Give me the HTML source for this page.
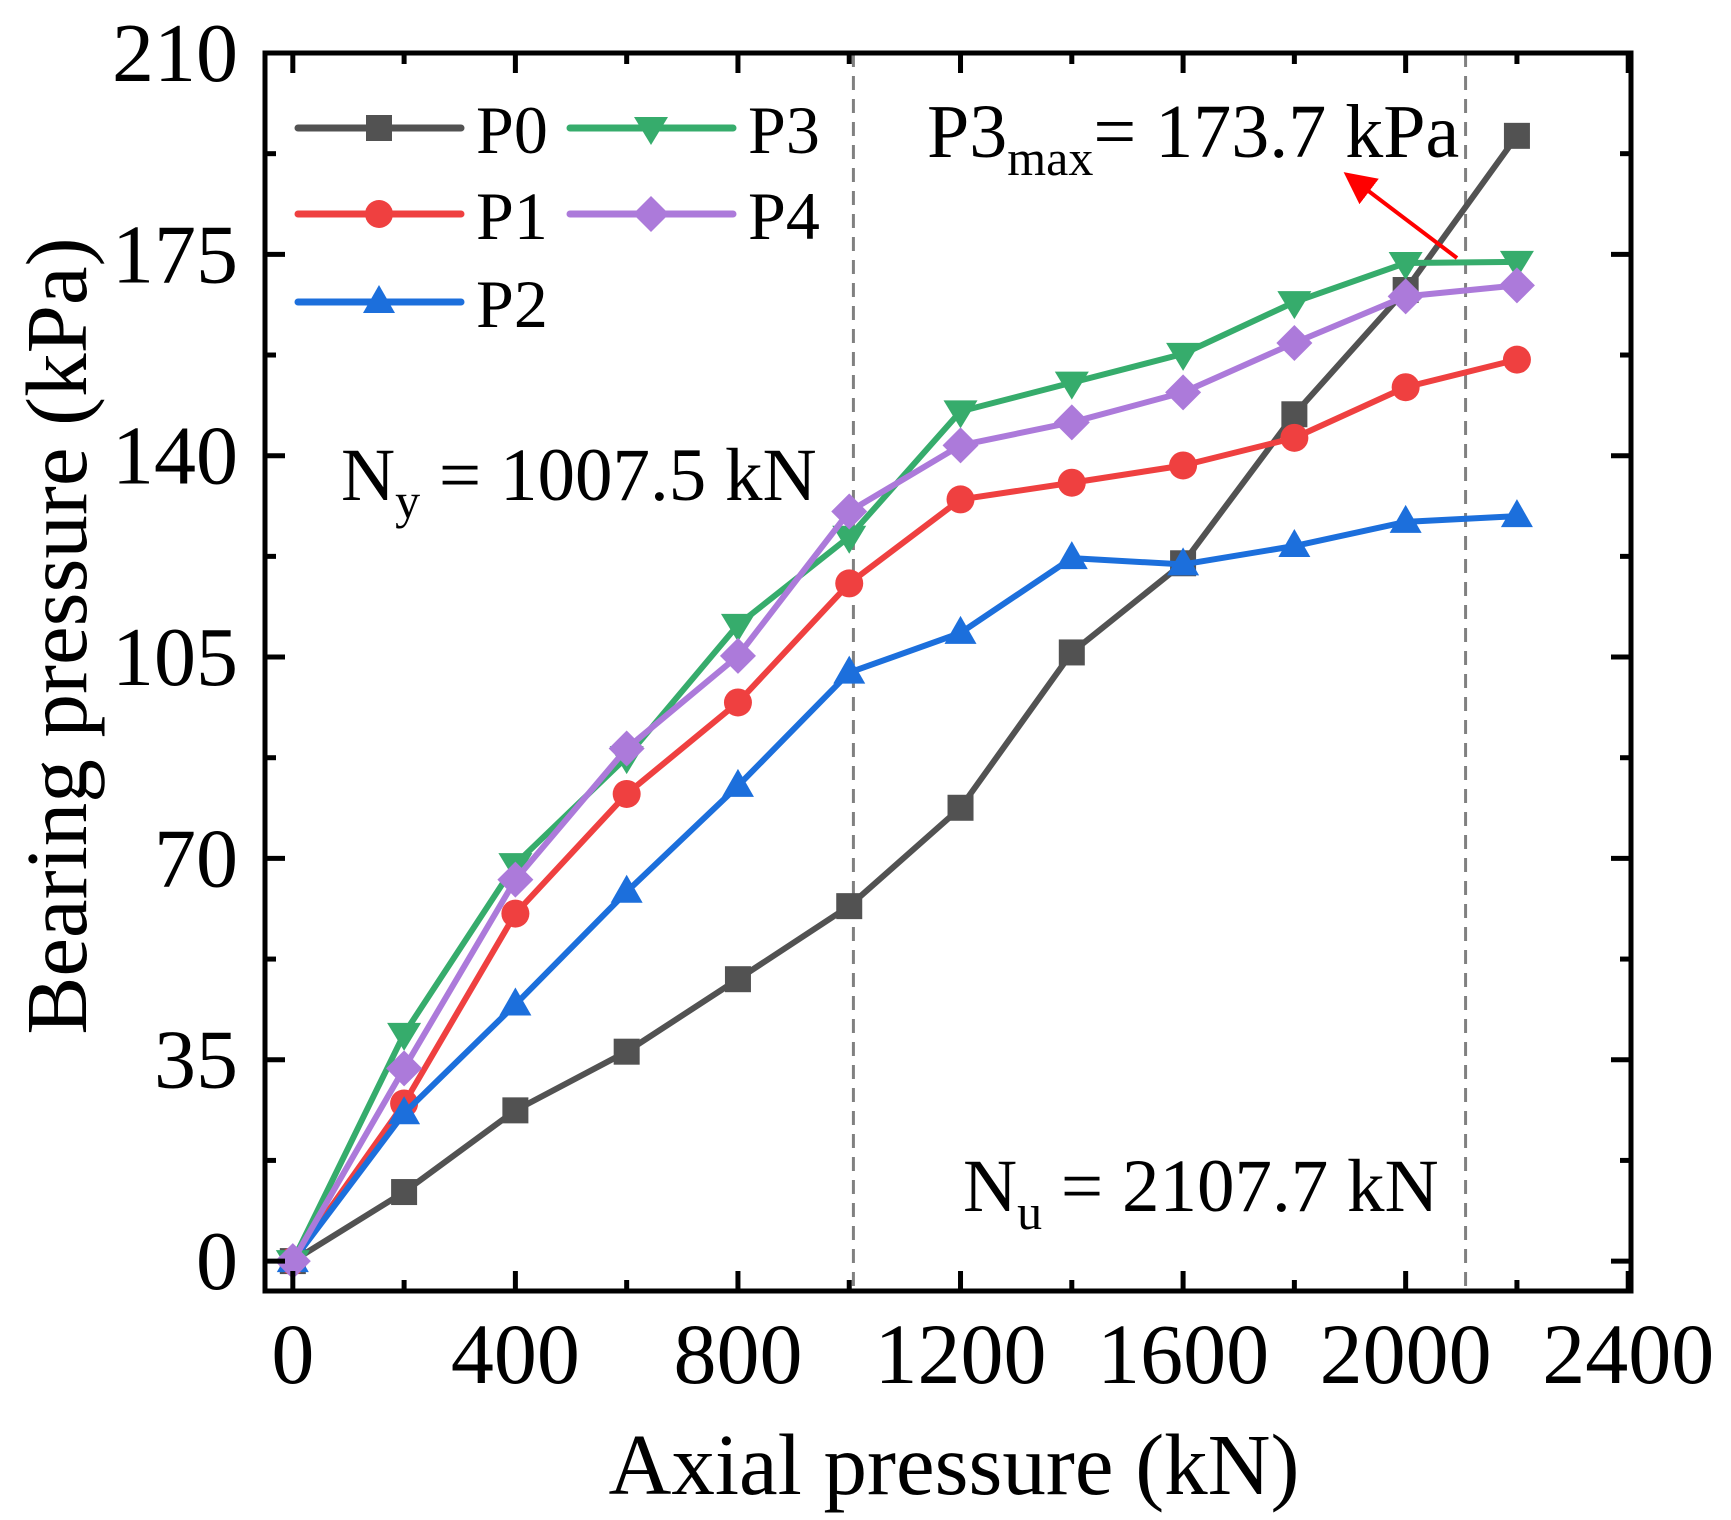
<!DOCTYPE html>
<html><head><meta charset="utf-8"><style>
html,body{margin:0;padding:0;background:#fff;}
svg{display:block;font-family:"Liberation Serif",serif;}
</style></head><body>
<svg id="chart" width="1731" height="1520" viewBox="0 0 1731 1520" xmlns="http://www.w3.org/2000/svg">
<g id="grid"></g>
<g id="marks"></g>
<g id="frame"></g>
<g id="texts"></g>
</svg>
<script>
const xValues = [0,200,400,600,800,1000,1200,1400,1600,1800,2000,2200];
const seriesNames = ["P0","P1","P2","P3","P4"];
const p0 = [0,12,26.2,36.4,49,61.7,78.8,105.8,121.3,147.2,168.8,195.6];
const p1 = [0,27.4,60.4,81.2,97.1,117.8,132.4,135.3,138.3,143.1,151.9,156.7];
const p2 = [0,25.7,44.6,64.2,82.6,102.3,109.2,122.2,121.1,124.3,128.5,129.5];
const p3 = [0,39.5,69,87.6,110.6,125.9,147.7,152.7,157.7,166.7,173.5,173.7];
const p4 = [0,33.5,66.3,89.1,105.2,130.3,141.8,145.8,151,159.6,167.7,169.6];
const xTicks = [0,400,800,1200,1600,2000,2400];
const yTicks = [0,35,70,105,140,175,210];
const refLines = [1007.5,2107.7];

const NS="http://www.w3.org/2000/svg";
const L=265,R=1631,T=53,B=1291;
const xMin=-50,xMax=2405,yMin=-5.2,yMax=210;
const sx=v=>L+(v-xMin)/(xMax-xMin)*(R-L);
const sy=v=>B-(v-yMin)/(yMax-yMin)*(B-T);
function mk(tag,attrs,parent){const e=document.createElementNS(NS,tag);for(const k in attrs)e.setAttribute(k,attrs[k]);parent.appendChild(e);return e;}
const grid=document.getElementById('grid'),marks=document.getElementById('marks'),frame=document.getElementById('frame'),texts=document.getElementById('texts');

refLines.forEach((v,i)=>{const l=mk('line',{x1:sx(v),x2:sx(v),y1:T,y2:B,stroke:'#808080','stroke-width':3,'stroke-dasharray':'14,9'},grid);

});

const colors=["#525252","#ef4040","#1c6fdc","#36ac6c","#ac7ada"];
const data=[p0,p1,p2,p3,p4];
function marker(k,x,y,parent){
  const c=colors[k];let e;
  if(k===0)e=mk('rect',{x:x-13,y:y-13,width:26,height:26,fill:c},parent);
  else if(k===1)e=mk('circle',{cx:x,cy:y,r:14,fill:c},parent);
  else if(k===2)e=mk('polygon',{points:`${x},${y-17} ${x+16},${y+11} ${x-16},${y+11}`,fill:c},parent);
  else if(k===3)e=mk('polygon',{points:`${x-17},${y-11} ${x+17},${y-11} ${x},${y+17}`,fill:c},parent);
  else e=mk('polygon',{points:`${x},${y-18} ${x+18},${y} ${x},${y+18} ${x-18},${y}`,fill:c},parent);
  return e;
}
data.forEach((arr,k)=>{
  const g=mk('g',{},marks);
  
  
  const pl=mk('polyline',{points:arr.map((v,i)=>sx(xValues[i])+','+sy(v)).join(' '),fill:'none',stroke:colors[k],'stroke-width':6,'stroke-linejoin':'round'},g);
  
  
  arr.forEach((v,i)=>{const m=marker(k,sx(xValues[i]),sy(v),g);
    
    });
});

const fr=mk('rect',{x:L,y:T,width:R-L,height:B-T,fill:'none',stroke:'#000','stroke-width':5},frame);


for(let v=0;v<=2400;v+=200){const x=sx(v),len=(v%400===0)?20:11;
  mk('line',{x1:x,x2:x,y1:B,y2:B-len,stroke:'#000','stroke-width':5},frame);
  mk('line',{x1:x,x2:x,y1:T,y2:T+len,stroke:'#000','stroke-width':5},frame);}
for(let v=0;v<=210;v+=17.5){const y=sy(v),len=(Math.round(v*2)%70===0)?20:11;
  mk('line',{x1:L,x2:L+len,y1:y,y2:y,stroke:'#000','stroke-width':5},frame);
  mk('line',{x1:R,x2:R-len,y1:y,y2:y,stroke:'#000','stroke-width':5},frame);}

xTicks.forEach(v=>{const t=mk('text',{x:sx(v),y:1383,'font-size':86,'text-anchor':'middle'},texts);t.textContent=v;
  
  });
yTicks.forEach(v=>{const t=mk('text',{x:238,y:sy(v)+28,'font-size':84,'text-anchor':'end'},texts);t.textContent=v;
  
  });

const legPos=[[298,128],[298,214],[298,302],[570,128],[570,214]];
legPos.forEach(([x,y],k)=>{const g=mk('g',{},texts);
  
  
  mk('line',{x1:x,x2:x+163,y1:y,y2:y,stroke:colors[k],'stroke-width':7,'stroke-linecap':'round'},g);
  marker(k,x+81,y,g);
  const t=mk('text',{x:x+178,y:y+25,'font-size':68},g);t.textContent=seriesNames[k];});
</script>
<svg style="position:absolute;left:0;top:0" width="1731" height="1520" xmlns="http://www.w3.org/2000/svg">
<defs><marker id="ah" markerWidth="8" markerHeight="8" refX="6" refY="4" orient="auto" markerUnits="strokeWidth"><path d="M0,0 L8,4 L0,8 Z" fill="#f00"/></marker></defs>
<line x1="1457" y1="258" x2="1350" y2="177" stroke="#f00" stroke-width="4" marker-end="url(#ah)"/>
<text x="927" y="157" font-family="Liberation Serif, serif" font-size="76">P3<tspan font-size="50" dy="18">max</tspan><tspan dy="-18">= 173.7 kPa</tspan></text>
<text x="341" y="500" font-family="Liberation Serif, serif" font-size="75">N<tspan font-size="50" dy="18">y</tspan><tspan dy="-18"> = 1007.5 kN</tspan></text>
<text x="963" y="1211" font-family="Liberation Serif, serif" font-size="75">N<tspan font-size="50" dy="18">u</tspan><tspan dy="-18"> = 2107.7 kN</tspan></text>
<text x="954" y="1494" text-anchor="middle" font-family="Liberation Serif, serif" font-size="87">Axial pressure (kN)</text>
<text transform="translate(86,636) rotate(-90)" text-anchor="middle" font-family="Liberation Serif, serif" font-size="87">Bearing pressure (kPa)</text>
</svg>
</body></html>
